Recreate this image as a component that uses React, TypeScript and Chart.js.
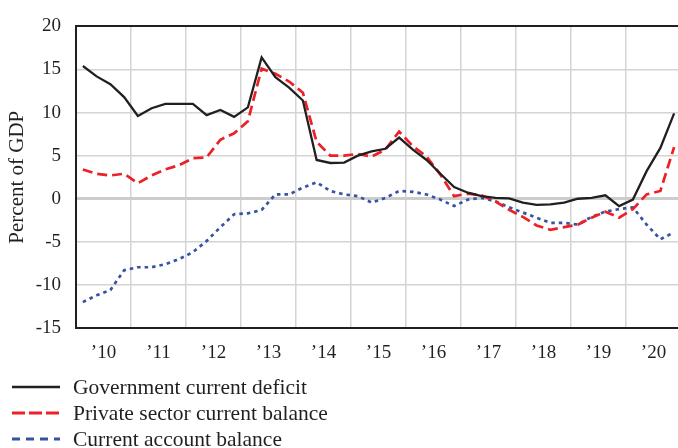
import React, { useEffect, useRef } from "react";
import { Chart, registerables } from "chart.js";

Chart.register(...registerables);

// Quarterly data, 2010Q1 .. 2020Q4 (percent of GDP)
const yearLabels = ["’10", "’11", "’12", "’13", "’14", "’15", "’16", "’17", "’18", "’19", "’20"];

const govDeficit = [
  15.4, 14.2, 13.3, 11.8,
  9.6, 10.5, 11.0, 11.0,
  11.0, 9.7, 10.3, 9.5,
  10.6, 16.4, 14.1, 12.9,
  11.4, 4.5, 4.15, 4.2,
  5.0, 5.5, 5.8, 7.1,
  5.7, 4.5, 2.9, 1.35,
  0.7, 0.3, 0.1, 0.05,
  -0.45, -0.7, -0.65, -0.45,
  0.0, 0.1, 0.4, -0.85,
  -0.1, 3.2, 5.9, 9.9,
];

const privateBalance = [
  3.4, 2.9, 2.7, 2.9,
  1.8, 2.7, 3.4, 3.9,
  4.7, 4.8, 6.85, 7.6,
  9.0, 15.1, 14.5, 13.6,
  12.3, 6.6, 5.0, 5.0,
  5.2, 4.9, 5.7, 7.8,
  6.1, 4.9, 2.8, 0.3,
  0.6, 0.4, -0.3, -1.3,
  -2.1, -3.1, -3.6, -3.3,
  -3.0, -2.2, -1.5, -2.2,
  -1.2, 0.5, 0.9, 6.0,
];

const currentAccount = [
  -12.0, -11.2, -10.6, -8.3,
  -7.95, -7.95, -7.6, -7.0,
  -6.2, -4.9, -3.3, -1.8,
  -1.7, -1.3, 0.5, 0.5,
  1.3, 1.9, 0.9, 0.5,
  0.3, -0.45, 0.1, 0.9,
  0.8, 0.5, -0.1, -0.85,
  -0.1, 0.1, -0.3, -1.0,
  -1.6, -2.2, -2.8, -2.8,
  -3.0, -2.1, -1.5, -1.2,
  -1.0, -3.0, -4.7, -3.9,
];

const seriesLabels = [
  "Government current deficit",
  "Private sector current balance",
  "Current account balance",
];

const INK = "#231f20";
const RED = "#ec2027";
const BLUE = "#3652a3";
const GRID = "#d4d4d4";
const FONT = "'Liberation Serif', 'Times New Roman', serif";

const toPoints = (arr: number[]) => arr.map((v, i) => ({ x: i + 0.5, y: v }));

export default function App() {
  const ref = useRef<HTMLCanvasElement>(null);

  useEffect(() => {
    const canvas = ref.current;
    if (!canvas) return;

    const legendItems = [
      { label: seriesLabels[0], color: INK, dash: [] as number[], width: 2.5 },
      { label: seriesLabels[1], color: RED, dash: [13, 4], width: 3 },
      { label: seriesLabels[2], color: BLUE, dash: [8, 6], width: 3 },
    ];

    const legendPlugin = {
      id: "stackedLegend",
      afterDraw(chart: any) {
        const ctx = chart.ctx as CanvasRenderingContext2D;
        ctx.save();
        legendItems.forEach((it, k) => {
          const yLine = 387 + k * 26;
          ctx.beginPath();
          ctx.setLineDash(it.dash);
          ctx.lineWidth = it.width;
          ctx.strokeStyle = it.color;
          ctx.lineCap = "butt";
          ctx.moveTo(12, yLine);
          ctx.lineTo(60, yLine);
          ctx.stroke();
          ctx.setLineDash([]);
          ctx.fillStyle = INK;
          ctx.font = `21.5px ${FONT}`;
          ctx.textBaseline = "alphabetic";
          ctx.textAlign = "left";
          ctx.fillText(it.label, 73, yLine + 7);
        });
        ctx.restore();
      },
    };

    const chart = new Chart(canvas, {
      type: "line",
      data: {
        datasets: [
          {
            label: seriesLabels[0],
            data: toPoints(govDeficit),
            borderColor: INK,
            borderWidth: 2.3,
            pointRadius: 0,
            tension: 0,
          },
          {
            label: seriesLabels[1],
            data: toPoints(privateBalance),
            borderColor: RED,
            borderWidth: 2.7,
            borderDash: [10, 5],
            borderCapStyle: "butt",
            pointRadius: 0,
            tension: 0,
          },
          {
            label: seriesLabels[2],
            data: toPoints(currentAccount),
            borderColor: BLUE,
            borderWidth: 2.7,
            borderDash: [3.5, 4],
            borderCapStyle: "butt",
            pointRadius: 0,
            tension: 0,
          },
        ],
      },
      options: {
        responsive: false,
        animation: false,
        events: [],
        layout: { padding: { top: 25, right: 0, bottom: 80, left: 0 } },
        plugins: {
          legend: { display: false },
          tooltip: { enabled: false },
        },
        scales: {
          x: {
            type: "linear",
            min: 0,
            max: 44,
            afterFit: (s: any) => {
              s.height = 40;
            },
            border: { display: true, color: INK, width: 2 },
            grid: {
              drawTicks: false,
              color: (c: any) => (c.tick && c.tick.value % 4 === 0 ? GRID : "rgba(0,0,0,0)"),
              lineWidth: 1.5,
            },
            ticks: {
              stepSize: 2,
              autoSkip: false,
              maxRotation: 0,
              padding: 14,
              color: INK,
              font: { family: FONT, size: 19 },
              callback: (v: any) => {
                const n = Number(v);
                return n % 4 === 2 ? yearLabels[(n - 2) / 4] : "";
              },
            },
          },
          y: {
            min: -15,
            max: 20,
            afterFit: (s: any) => {
              s.width = 76;
            },
            border: { display: true, color: INK, width: 2 },
            grid: {
              drawTicks: false,
              color: (c: any) => {
                const v = c.tick ? c.tick.value : null;
                if (v === 20) return INK;
                if (v === 0) return "#cccccc";
                return GRID;
              },
              lineWidth: (c: any) => {
                const v = c.tick ? c.tick.value : null;
                if (v === 20) return 2;
                if (v === 0) return 3;
                return 1.5;
              },
            },
            ticks: {
              stepSize: 5,
              padding: 15,
              color: INK,
              font: { family: FONT, size: 19 },
            },
            title: {
              display: true,
              text: "Percent of GDP",
              color: INK,
              font: { family: FONT, size: 21 },
              padding: { top: 5, bottom: 0 },
            },
          },
        },
      },
      plugins: [legendPlugin],
    });

    return () => chart.destroy();
  }, []);

  return (
    <div
      style={{
        position: "fixed",
        left: 0,
        top: 0,
        width: 678,
        height: 448,
        overflow: "hidden",
        background: "#ffffff",
      }}
    >
      <canvas ref={ref} width={695} height={448} style={{ display: "block", width: 695, height: 448 }} />
    </div>
  );
}
